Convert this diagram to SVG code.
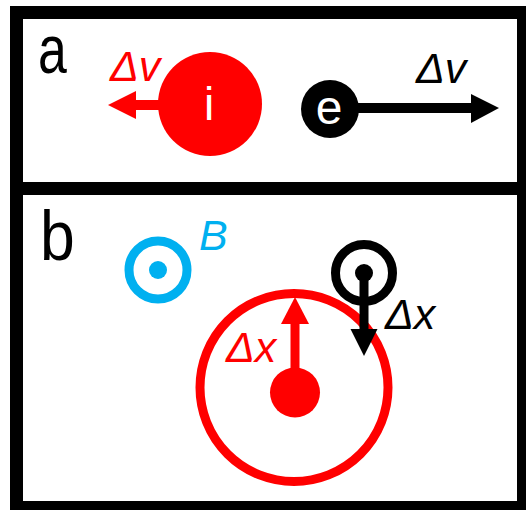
<svg xmlns="http://www.w3.org/2000/svg" width="526" height="510" viewBox="0 0 526 510">
<style>
.frame{fill:none;stroke:#000;stroke-width:13}
.lbl{font-family:"Liberation Sans",Arial,sans-serif;fill:#000}
.sym{font-family:"Liberation Sans",Arial,sans-serif;font-style:italic;font-size:43px}
.red{fill:#FF0000}
.blk{fill:#000}
.blue{fill:#00B0F0}
</style>
<rect width="526" height="510" fill="#fff"/>
<g id="panel-a">
<rect class="frame" x="16.5" y="12.5" width="507" height="176"/>
<text class="lbl" transform="translate(38,73) scale(0.75,1)" font-size="69">a</text>
</g>
<g id="panel-b">
<rect class="frame" x="16.5" y="188.5" width="507" height="319"/>
<text class="lbl" transform="translate(40,260) scale(0.88,1)" font-size="71">b</text>
</g>
<g id="ion-a">
<circle class="red" cx="210" cy="104" r="52"/>
<text x="209" y="120" font-family="Liberation Sans,Arial,sans-serif" font-size="46" fill="#fff" text-anchor="middle">i</text>
</g>
<g id="electron-a">
<circle class="blk" cx="330" cy="109" r="29"/>
<text x="329" y="124" font-family="Liberation Sans,Arial,sans-serif" font-size="48" fill="#fff" text-anchor="middle">e</text>
</g>
<g id="B-field">
<circle cx="158" cy="270" r="29" fill="none" stroke="#00B0F0" stroke-width="9"/>
<circle class="blue" cx="158" cy="270" r="9"/>
<text class="sym blue" x="199" y="250">B</text>
</g>
<g id="ion-orbit">
<circle cx="294" cy="387.5" r="94" fill="none" stroke="#FF0000" stroke-width="9"/>
<circle class="red" cx="295" cy="392.5" r="25"/>
</g>
<g id="electron-orbit">
<circle cx="364" cy="273" r="28.5" fill="none" stroke="#000" stroke-width="9"/>
<circle class="blk" cx="364" cy="273" r="9"/>
</g>
<g id="connectors">
<rect class="red" x="134" y="100" width="26" height="10"/>
<polygon class="red" points="108,105 136,91 136,119"/>
<text class="sym red" x="110" y="81">Δv</text>
<rect class="blk" x="357" y="103" width="116" height="10"/>
<polygon class="blk" points="499,108 471,94 471,123"/>
<text class="sym blk" x="416" y="83">Δv</text>
<rect class="red" x="290.5" y="322" width="9" height="50"/>
<polygon class="red" points="295,297 281,324 309,324"/>
<text class="sym red" x="226" y="362">Δx</text>
<rect class="blk" x="359.5" y="273" width="9" height="58"/>
<polygon class="blk" points="364,356 350.5,329 377.5,329"/>
<text class="sym blk" x="385" y="329">Δx</text>
</g>
</svg>
